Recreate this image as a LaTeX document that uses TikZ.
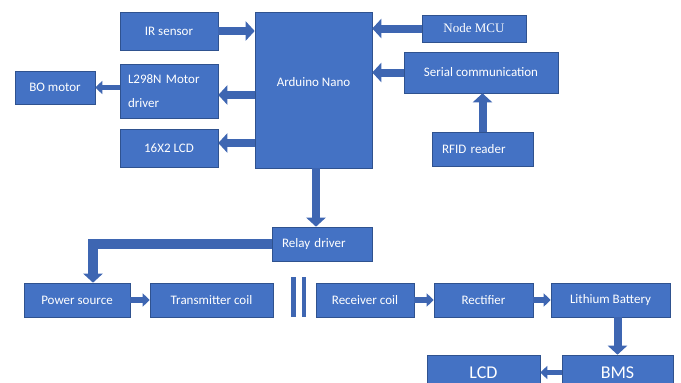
\documentclass[tikz,border=0pt]{standalone}
\usepackage{fontspec}
\setmainfont{Carlito}
\newfontfamily\timesf{Liberation Serif}
\usetikzlibrary{arrows.meta}
\definecolor{boxfill}{RGB}{68,114,196}
\definecolor{boxline}{RGB}{47,82,143}
\definecolor{arrowc}{RGB}{62,102,178}
\begin{document}
\begin{tikzpicture}[x=1pt, y=-1pt,
    block/.style={fill=boxfill, draw=boxline, line width=0.6pt, text=white,
        inner sep=0pt, font=\fontsize{13}{24}\selectfont},
    bigblock/.style={block, font=\fontsize{18}{20}\selectfont},
    flow/.style={draw=arrowc, line width=8pt, line join=miter,
        -{Triangle[width=19pt, length=9pt]}},
    flowsm/.style={draw=arrowc, line width=5.5pt,
        -{Triangle[width=13pt, length=7pt]}}]
    \useasboundingbox (0,0) rectangle (681,383);

    % top part: controller
    \node[block, minimum width=117pt, minimum height=156pt,
        label={[text=white, font=\fontsize{13}{15}\selectfont, yshift=8pt]center:Arduino Nano}]
        (ard) at (313.5,90) {};
    \node[block, minimum width=98pt, minimum height=38pt] (ir) at (169,31) {IR sensor};
    \node[block, minimum width=98pt, minimum height=54pt, text width=82pt, align=left]
        (l298) at (169,91) {L298N Motor\\driver};
    \node[block, minimum width=80pt, minimum height=33pt] (bo) at (55,87.5) {BO motor};
    \node[block, minimum width=98pt, minimum height=38pt] (lcdA) at (169,148) {16X2 LCD};
    \node[block, minimum width=104pt, minimum height=27pt, font=\timesf\fontsize{13}{15}\selectfont]
        (mcu) at (474,28.5) {Node MCU};
    \node[block, minimum width=154pt, minimum height=41pt] (serial) at (481,72.5) {Serial communication};
    \node[block, minimum width=101pt, minimum height=34pt, text width=81pt, align=left]
        (rfid) at (482.5,149) {RFID reader};
    \node[block, minimum width=100pt, minimum height=34pt, text width=80pt, align=left]
        (relay) at (322,244) {Relay driver};

    \draw[flow] (ir.east) -- (ard.west |- ir.east);
    \draw[flow] ([yshift=-4pt]ard.west |- l298.east) -- ([yshift=-4pt]l298.east);
    \draw[flow] ([yshift=5pt]ard.west |- lcdA.east) -- ([yshift=5pt]lcdA.east);
    \draw[flowsm] (l298.west |- bo.east) -- (bo.east);
    \draw[flow] (mcu.west) -- (ard.east |- mcu.west);
    \draw[flow] (serial.west) -- (ard.east |- serial.west);
    \draw[flow] (rfid.north) -- (rfid.north |- serial.south);
    \draw[flow] ([xshift=2.5pt]ard.south) -- ([xshift=2.5pt]ard.south |- relay.north);

    % bottom part: wireless charging
    \node[block, minimum width=106pt, minimum height=34pt] (power) at (77,300) {Power source};
    \node[block, minimum width=123pt, minimum height=34pt] (tx) at (211.5,300) {Transmitter coil};
    \node[block, minimum width=98pt, minimum height=34pt] (rx) at (365,300) {Receiver coil};
    \node[block, minimum width=99pt, minimum height=34pt] (rect) at (483.5,300) {Rectifier};
    \node[block, minimum width=119pt, minimum height=34pt] (lith) at (610.5,300) {Lithium Battery};
    \node[bigblock, minimum width=111pt, minimum height=35pt] (bms) at (617.5,372.5) {BMS};
    \node[bigblock, minimum width=113pt, minimum height=35pt] (lcdB) at (483.5,372.5) {LCD};

    % coil gap
    \fill[arrowc] (291,277) rectangle (296,317);
    \fill[arrowc] (302,277) rectangle (306,317);

    \draw[flow, line width=10pt] (relay.west) -| ([xshift=16pt]power.north);
    \draw[flowsm] (power.east) -- (tx.west);
    \draw[flowsm] (rx.east) -- (rect.west);
    \draw[flowsm] (rect.east) -- (lith.west);
    \draw[flow] (bms.north |- lith.south) -- (bms.north);
    \draw[flowsm] (bms.west) -- (lcdB.east);
\end{tikzpicture}
\end{document}
